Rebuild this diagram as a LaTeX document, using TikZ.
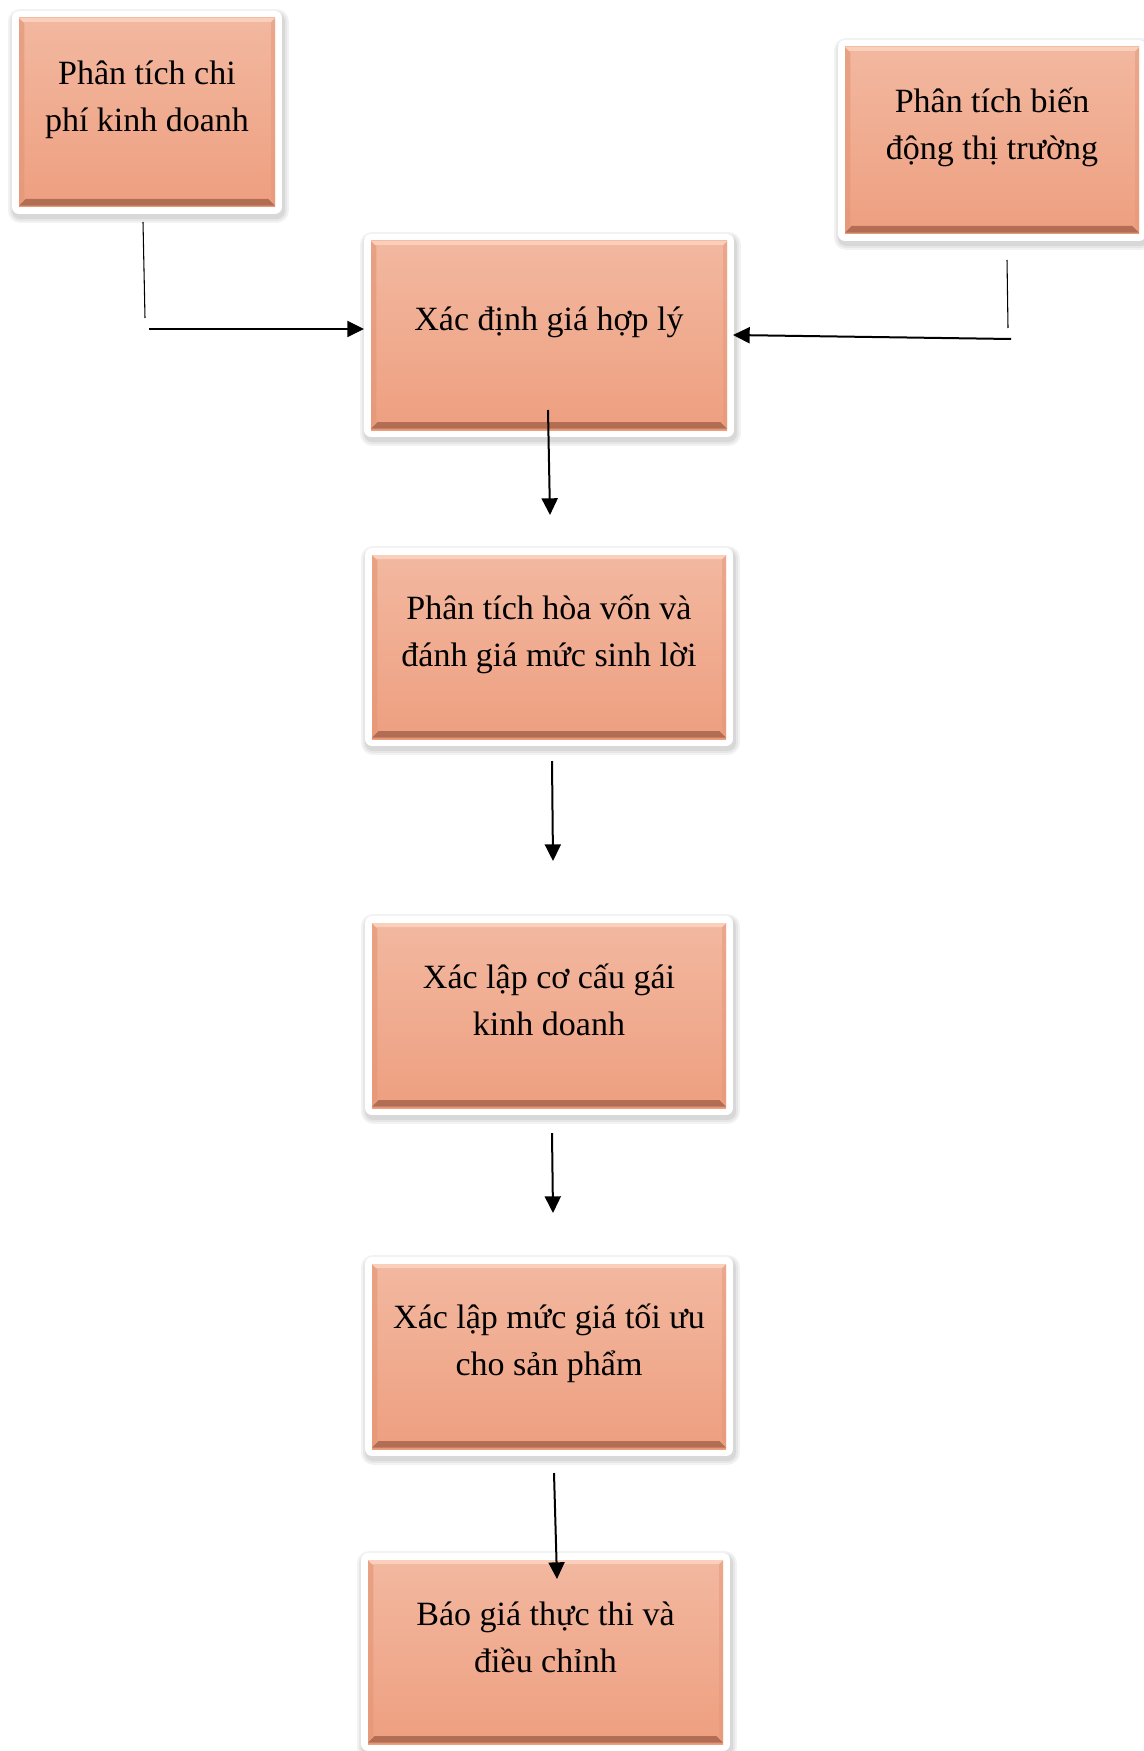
\documentclass[tikz,border=0pt]{standalone}
\usepackage{fontspec}
\setmainfont{Liberation Serif}
\usetikzlibrary{arrows.meta,calc,fit}
\definecolor{otop}{HTML}{F2B8A0}
\definecolor{obot}{HTML}{EE9F80}
\definecolor{bevdark}{HTML}{B06C52}
\definecolor{bevlight}{HTML}{FAD0BC}
\definecolor{bevside}{HTML}{E59878}
\newcommand{\twol}[2]{\rule{0pt}{28pt}#1\\#2\rule[-28pt]{0pt}{28pt}}
\tikzset{
  orangebox/.style={rectangle, inner sep=0pt, draw=none,
    top color=otop, bottom color=obot,
    preaction={draw=black, opacity=0.05, line width=19pt, line join=round,
      transform canvas={shift={(1pt,-2.5pt)}}},
    preaction={draw=black, opacity=0.05, line width=16pt, line join=round,
      transform canvas={shift={(1pt,-2.5pt)}}},
    preaction={draw=black, opacity=0.06, line width=13pt, line join=round,
      transform canvas={shift={(1pt,-2.5pt)}}},
    preaction={draw=white, line width=10.5pt, line join=round},
    path picture={
      \shade[top color=obot, bottom color=bevdark]
        ([xshift=5pt,yshift=6pt]path picture bounding box.south west) --
        ([xshift=-5pt,yshift=6pt]path picture bounding box.south east) --
        ([yshift=1pt]path picture bounding box.south east) --
        ([yshift=1pt]path picture bounding box.south west) -- cycle;
      \fill[bevside, opacity=0.7]
        (path picture bounding box.north west) --
        ([xshift=4pt,yshift=-4pt]path picture bounding box.north west) --
        ([xshift=4pt,yshift=6pt]path picture bounding box.south west) --
        ([yshift=1pt]path picture bounding box.south west) -- cycle;
      \fill[bevside, opacity=0.5]
        (path picture bounding box.north east) --
        ([xshift=-3pt,yshift=-3pt]path picture bounding box.north east) --
        ([xshift=-3pt,yshift=6pt]path picture bounding box.south east) --
        ([yshift=1pt]path picture bounding box.south east) -- cycle;
      \fill[bevlight]
        (path picture bounding box.north west) --
        (path picture bounding box.north east) --
        ([xshift=-3pt,yshift=-3pt]path picture bounding box.north east) --
        ([xshift=3pt,yshift=-3pt]path picture bounding box.north west) -- cycle;
      \fill[bevside]
        (path picture bounding box.south west) rectangle
        ([yshift=1pt]path picture bounding box.south east);
    }},
  lbl/.style={align=center, inner sep=0pt, font=\fontsize{25.5pt}{35.25pt}\selectfont},
  thinline/.style={line width=0.8pt, black},
  arrowline/.style={line width=1.5pt, black, -{Triangle[length=12.5pt,width=12pt]}}
}
\begin{document}
\begin{tikzpicture}[x=0.75pt,y=-0.75pt]
\useasboundingbox (0,0) rectangle (1143,1751);
% boxes
\node[orangebox, fit={(19,18) (275,207)}] (b1) {};
\node[orangebox, fit={(845,47) (1139,234)}] (b2) {};
\node[orangebox, fit={(371,241) (727,430)}] (b3) {};
\node[orangebox, fit={(372,555) (726,739)}] (b4) {};
\node[orangebox, fit={(372,923) (726,1108)}] (b5) {};
\node[orangebox, fit={(372,1264) (726,1449)}] (b6) {};
\node[orangebox, fit={(368,1560) (723,1744)}] (b7) {};
% texts
\node[lbl] (t1) at (147,108.5) {\twol{Phân tích chi}{phí kinh doanh}};
\node[lbl] (t2) at (992,136.5) {\twol{Phân tích biến}{động thị trường}};
\node[lbl, anchor=base] (t3) at (549,330) {Xác định giá hợp lý};
\node[lbl] (t4) at (549,642.5) {\twol{Phân tích hòa vốn và}{đánh giá mức sinh lời}};
\node[lbl] (t5) at (549,1011.5) {\twol{Xác lập cơ cấu gái}{kinh doanh}};
\node[lbl] (t6) at (549,1352) {\twol{Xác lập mức giá tối ưu}{cho sản phẩm}};
\node[lbl] (t7) at (545.5,1648.5) {\twol{Báo giá thực thi và}{điều chỉnh}};
% connector end points
\coordinate (l1) at (143,222);
\coordinate (l2) at (145,318);
\coordinate (l3) at (149,329);
\coordinate (l4) at (364,329);
\coordinate (r1) at (1007,260);
\coordinate (r2) at (1008,328);
\coordinate (r3) at (1011,339);
\coordinate (r4) at (733,335);
\coordinate (a1s) at (548,410);
\coordinate (a1e) at (550,515);
\coordinate (a2s) at (552,761);
\coordinate (a2e) at (553,861);
\coordinate (a3s) at (552,1133);
\coordinate (a3e) at (553,1213);
\coordinate (a4s) at (554,1473);
\coordinate (a4e) at (557,1579);
% connectors
\draw[thinline] (l1) -- (l2);
\draw[arrowline] (l3) -- (l4);
\draw[thinline] (r1) -- (r2);
\draw[arrowline] (r3) -- (r4);
\draw[arrowline] (a1s) -- (a1e);
\draw[arrowline] (a2s) -- (a2e);
\draw[arrowline] (a3s) -- (a3e);
\draw[arrowline] (a4s) -- (a4e);
\end{tikzpicture}
\end{document}
